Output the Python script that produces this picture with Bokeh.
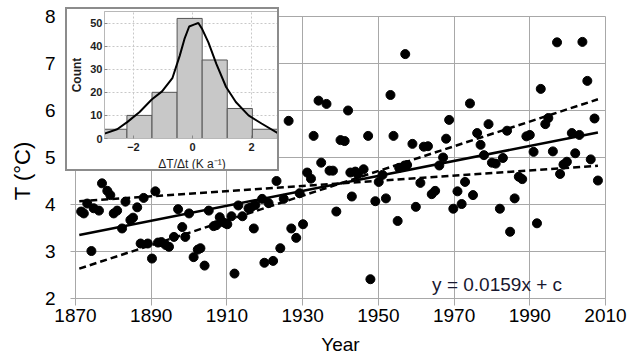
from bokeh.plotting import figure
from bokeh.models import FixedTicker, Range1d, Div
from bokeh.embed import file_html
from bokeh.resources import INLINE
from bokeh.core.properties import value

# Annual mean temperature series
years = [1871.5, 1872.2, 1873.1, 1874.2, 1874.8, 1876.2, 1877.0, 1878.4, 1879.2, 1880.1,
         1881.0, 1882.3, 1883.2, 1884.5, 1885.2, 1886.3, 1887.2, 1888.0, 1889.1, 1890.2,
         1891.1, 1891.8, 1892.7, 1893.8, 1894.7, 1896.0, 1897.1, 1898.2, 1899.0, 1900.0,
         1901.2, 1902.3, 1903.0, 1904.1, 1905.2, 1906.5, 1907.2, 1908.1, 1908.8, 1909.6,
         1910.1, 1911.2, 1912.0, 1913.0, 1914.1, 1915.7, 1916.4, 1917.1, 1917.5, 1919.3,
         1919.9, 1921.0, 1922.2, 1923.1, 1924.1, 1925.0, 1926.3, 1927.0, 1928.3, 1929.2,
         1930.1, 1931.2, 1932.2, 1932.9, 1934.2, 1934.9, 1936.3, 1937.1, 1938.0, 1938.9,
         1940.0, 1941.1, 1942.0, 1942.6, 1943.0, 1943.9, 1944.6, 1946.1, 1947.3, 1947.9,
         1949.2, 1950.1, 1951.1, 1952.0, 1953.2, 1954.0, 1955.1, 1955.5, 1956.9, 1957.6,
         1957.1, 1959.0, 1959.9, 1961.1, 1962.0, 1963.1, 1964.1, 1965.0, 1966.1, 1967.1,
         1967.9, 1968.7, 1969.8, 1970.9, 1972.0, 1972.9, 1974.2, 1975.0, 1976.1, 1977.0,
         1977.9, 1979.1, 1980.0, 1981.0, 1982.1, 1982.9, 1984.0, 1984.8, 1986.0, 1987.1,
         1988.0, 1989.1, 1990.0, 1991.0, 1991.9, 1992.9, 1994.1, 1994.9, 1996.1, 1997.2,
         1998.0, 1998.9, 1999.8, 2001.1, 2002.0, 2003.1, 2003.9, 2005.2, 2006.1, 2007.1, 2008.0]
temps = [3.85, 3.81, 4.02, 3.01, 3.92, 3.87, 4.45, 4.29, 4.20, 3.81,
         3.87, 3.49, 4.06, 3.67, 3.72, 3.94, 3.17, 4.14, 3.17, 2.85,
         4.28, 3.19, 3.20, 3.14, 3.10, 3.31, 3.90, 3.52, 3.31, 3.81,
         2.88, 3.04, 3.07, 2.70, 3.87, 3.54, 3.56, 3.73, 3.63, 3.60,
         3.58, 3.75, 2.53, 3.98, 3.75, 3.92, 3.94, 3.49, 3.99, 4.12,
         2.76, 4.03, 2.80, 4.50, 3.07, 4.12, 5.78, 3.49, 3.29, 4.24,
         3.58, 4.68, 4.55, 5.46, 6.21, 4.89, 6.14, 4.72, 4.72, 3.85,
         5.37, 5.35, 6.00, 4.68, 4.17, 4.70, 4.64, 4.75, 5.46, 2.41,
         4.07, 4.48, 4.63, 4.13, 6.33, 5.46, 3.65, 4.78, 4.83, 4.84,
         7.20, 5.29, 3.95, 4.46, 5.23, 5.24, 4.22, 4.29, 4.83, 5.00,
         5.40, 5.80, 3.91, 4.28, 4.01, 4.48, 6.15, 4.20, 5.52, 5.27,
         5.05, 5.71, 4.89, 4.87, 3.91, 4.99, 5.57, 3.42, 4.13, 4.59,
         4.54, 5.45, 5.48, 5.12, 3.60, 6.46, 5.71, 5.84, 5.13, 7.45,
         4.65, 4.85, 4.91, 5.52, 5.09, 5.48, 7.46, 6.63, 4.96, 5.83, 4.51]

# Linear trend and its upper / lower slope bounds, all pivoting on one point
slope = 0.0159
slope_upper = 0.0263
slope_lower = 0.0055
pivot_year = 1940.0
pivot_temp = 4.45
fit_years = [1871.0, 2008.0]

x_ticks = [1870, 1890, 1910, 1930, 1950, 1970, 1990, 2010]
y_ticks = [2, 3, 4, 5, 6, 7, 8]

# Histogram of year-to-year changes (inset)
bin_centers = [-2.645, -1.795, -0.945, -0.095, 0.755, 1.605, 2.455]
bin_counts = [4, 10, 20, 52, 34, 13, 4]
bin_width = 0.85
curve_x = [-2.98, -2.55, -2.20, -1.79, -1.38, -1.03, -0.68, -0.43, -0.27, -0.11,
           0.05, 0.20, 0.33, 0.54, 0.81, 1.14, 1.47, 1.90, 2.34, 2.88]
curve_y = [2.1, 4.0, 7.2, 11.5, 16.9, 20.4, 26.1, 35.9, 43.1, 48.5,
           49.3, 50.0, 47.4, 41.6, 32.3, 22.3, 15.8, 10.0, 6.5, 2.4]
inset_x_ticks = [-2, 0, 2]
inset_y_ticks = [0, 10, 20, 30, 40, 50]

FONT = "Liberation Sans"
GRID = "#a8a8a8"

p = figure(width=638, height=360, x_range=Range1d(1870, 2010), y_range=Range1d(2, 8),
           output_backend="svg", toolbar_location=None,
           min_border_left=75, min_border_right=33, min_border_top=16, min_border_bottom=62)
p.background_fill_color = "white"
p.border_fill_color = "white"
p.outline_line_color = GRID

p.xaxis.ticker = FixedTicker(ticks=x_ticks)
p.yaxis.ticker = FixedTicker(ticks=y_ticks)
p.xgrid.ticker = FixedTicker(ticks=x_ticks)
p.ygrid.ticker = FixedTicker(ticks=y_ticks)
p.grid.grid_line_color = GRID
p.grid.grid_line_width = 1

p.axis.axis_line_color = GRID
p.axis.major_tick_line_color = GRID
p.axis.minor_tick_line_color = None
p.axis.major_tick_in = 0
p.xaxis.major_tick_out = 7
p.yaxis.major_tick_out = 5
p.axis.major_label_text_font = FONT
p.axis.major_label_text_font_size = "19px"
p.axis.major_label_text_color = "black"
p.axis.axis_label_text_font = FONT
p.axis.axis_label_text_font_style = "normal"
p.axis.axis_label_text_color = "black"
p.xaxis.axis_label = "Year"
p.xaxis.axis_label_text_font_size = "19px"
p.xaxis.major_label_standoff = 3
p.xaxis.axis_label_standoff = 9
p.yaxis.major_label_standoff = 15

p.scatter(years, temps, size=9, color="black")

for s, dash in [(slope, "solid"), (slope_upper, "7 4"), (slope_lower, "7 4")]:
    fit_temps = [pivot_temp + s * (yr - pivot_year) for yr in fit_years]
    p.line(fit_years, fit_temps, line_width=2.5, line_color="black", line_dash=dash)

p.text(x=[1964.2], y=[2.29], text=[f"y = {slope:.4f}x + c"],
       text_font=value(FONT), text_font_size="19px", text_color="#181830",
       text_baseline="alphabetic", text_align="left")

# Y-axis title as a rotated text block, set a little below the axis middle
y_title = Div(text="T (°C)", width=76, height=26,
              styles={"position": "absolute", "left": "-20px", "top": "153px",
                      "transform": "rotate(-90deg)", "font-family": FONT,
                      "font-size": "22px", "line-height": "26px", "color": "black",
                      "text-align": "center", "white-space": "nowrap", "z-index": "5"})

# Inset histogram (a separate root, floated over the main panel)
inset = figure(width=214, height=164, x_range=Range1d(-2.98, 2.95), y_range=Range1d(0, 55),
               output_backend="svg", toolbar_location=None,
               min_border_left=30, min_border_right=2, min_border_top=2, min_border_bottom=35)
inset.background_fill_color = "white"
inset.border_fill_color = "white"
inset.outline_line_color = "#b8b8b8"
inset.xaxis.ticker = FixedTicker(ticks=inset_x_ticks)
inset.yaxis.ticker = FixedTicker(ticks=inset_y_ticks)
inset.xgrid.ticker = FixedTicker(ticks=inset_x_ticks)
inset.ygrid.ticker = FixedTicker(ticks=inset_y_ticks)
inset.grid.grid_line_color = "#c8c8c8"
inset.grid.grid_line_dash = "2 2"
inset.axis.axis_line_color = "#b8b8b8"
inset.axis.major_tick_line_color = "#888888"
inset.axis.minor_tick_line_color = None
inset.axis.major_tick_in = 3
inset.axis.major_tick_out = 0
inset.axis.major_label_text_font = FONT
inset.axis.major_label_text_font_size = "11px"
inset.axis.major_label_text_font_style = "bold"
inset.axis.major_label_text_color = "#1e1e1e"
inset.axis.axis_label_text_font = FONT
inset.axis.axis_label_text_color = "#1e1e1e"
inset.xaxis.major_label_standoff = 4
inset.yaxis.major_label_standoff = 2
inset.xaxis.axis_label = "ΔT/Δt (K a⁻¹)"
inset.xaxis.axis_label_text_font_size = "12px"
inset.xaxis.axis_label_text_font_style = "normal"
inset.xaxis.axis_label_standoff = 3
inset.yaxis.axis_label = "Count"
inset.yaxis.axis_label_text_font_size = "12px"
inset.yaxis.axis_label_text_font_style = "bold"
inset.yaxis.axis_label_standoff = 3

inset.vbar(x=bin_centers, top=bin_counts, width=bin_width,
           fill_color="#c8c8c8", line_color="#555555", line_width=1)
inset.line(curve_x, curve_y, line_width=2, line_color="black")

inset.styles = {"position": "absolute", "left": "65px", "top": "7px",
                "border": "2px solid #8c8c8c", "z-index": "10"}

open("out.html", "w").write(file_html([p, inset, y_title], INLINE))
